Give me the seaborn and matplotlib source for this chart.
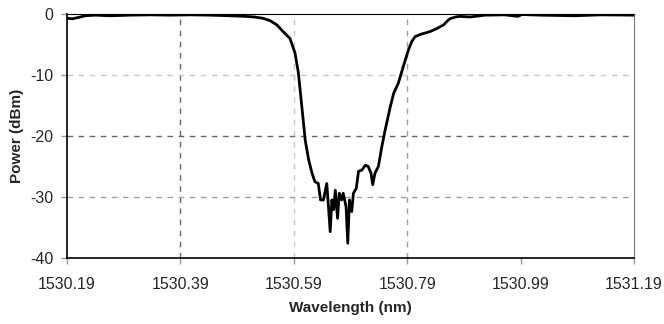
import pandas as pd
import seaborn as sns
import matplotlib.pyplot as plt

# transmission spectrum
wavelength = [1530.190, 1530.199, 1530.209, 1530.222, 1530.239, 1530.266, 1530.301,
              1530.336, 1530.372, 1530.407, 1530.442, 1530.477, 1530.504, 1530.520,
              1530.535, 1530.548, 1530.560, 1530.571, 1530.583, 1530.592, 1530.598,
              1530.604, 1530.610, 1530.616, 1530.622, 1530.627, 1530.633, 1530.637,
              1530.642, 1530.648, 1530.651, 1530.654, 1530.657, 1530.660, 1530.663,
              1530.667, 1530.670, 1530.674, 1530.677, 1530.682, 1530.685, 1530.688,
              1530.692, 1530.695, 1530.700, 1530.704, 1530.710, 1530.716, 1530.721,
              1530.726, 1530.729, 1530.733, 1530.739, 1530.745, 1530.751, 1530.760,
              1530.766, 1530.774, 1530.783, 1530.792, 1530.798, 1530.804, 1530.815,
              1530.830, 1530.842, 1530.854, 1530.860, 1530.865, 1530.875, 1530.883,
              1530.901, 1530.927, 1530.962, 1530.985, 1530.992, 1531.024, 1531.086,
              1531.130, 1531.190]
power = [-0.7, -0.8, -0.6, -0.3, -0.2, -0.3, -0.2,
         -0.15, -0.2, -0.15, -0.2, -0.3, -0.4, -0.5,
         -0.7, -1.1, -1.8, -2.9, -4.0, -6.4, -9.7,
         -15.2, -20.7, -23.9, -26.1, -27.5, -27.8, -30.5,
         -30.5, -27.8, -31.6, -35.7, -30.5, -32.1, -28.9,
         -33.5, -29.4, -30.5, -29.4, -31.6, -37.6, -30.5,
         -32.4, -29.4, -28.6, -25.8, -25.6, -24.8, -25.0,
         -26.1, -28.0, -26.1, -25.0, -21.8, -19.0, -15.2,
         -13.0, -11.4, -8.6, -5.9, -4.5, -3.7, -3.3,
         -2.9, -2.4, -1.8, -1.2, -0.8, -0.5, -0.4,
         -0.5, -0.2, -0.15, -0.4, -0.1, -0.2, -0.3,
         -0.15, -0.2]

xticks = [1530.19, 1530.39, 1530.59, 1530.79, 1530.99, 1531.19]
yticks = [-40, -30, -20, -10, 0]

df = pd.DataFrame({'Wavelength': wavelength, 'Power': power})

sns.set_style('white')
plt.rcParams['font.family'] = ['Liberation Sans', 'DejaVu Sans']
plt.rcParams['axes.unicode_minus'] = False

fig = plt.figure(figsize=(6.64, 3.24), dpi=100)
ax = fig.add_axes([0.101, 0.204, 0.854, 0.753])

# gridlines (the original has no line at 1530.99)
for xv, c in [(1530.39, '#666666'), (1530.59, '#c8c8c8'), (1530.79, '#a0a0a0')]:
    ax.axvline(xv, color=c, linestyle=(0, (4, 4)), linewidth=1, zorder=0)
for yv, c in [(-10, '#c8c8c8'), (-20, '#666666'), (-30, '#a0a0a0')]:
    ax.axhline(yv, color=c, linestyle=(0, (4, 4)), linewidth=1, zorder=0)

sns.lineplot(data=df, x='Wavelength', y='Power', color='black', linewidth=2, ax=ax)

ax.set_xlim(1530.19, 1531.19)
ax.set_ylim(-40, 0)
ax.set_xticks(xticks)
ax.set_xticklabels([f'{t:.2f}' for t in xticks])
ax.set_yticks(yticks)
ax.tick_params(direction='out', length=4, width=1, color='#999999', labelsize=11.5)
ax.tick_params(axis='x', pad=10)
ax.tick_params(axis='y', pad=6)
ax.tick_params(axis='both', bottom=True, left=True)

for s in ['left', 'bottom']:
    ax.spines[s].set_color('black')
    ax.spines[s].set_linewidth(1.2)
ax.spines['top'].set_color('black')
ax.spines['right'].set_color('#777777')

ax.set_xlabel('Wavelength (nm)', fontsize=11, fontweight='bold', labelpad=6)
ax.set_ylabel('Power (dBm)', fontsize=11, fontweight='bold', labelpad=4)

plt.savefig('out.png', dpi=100)
plt.close()
